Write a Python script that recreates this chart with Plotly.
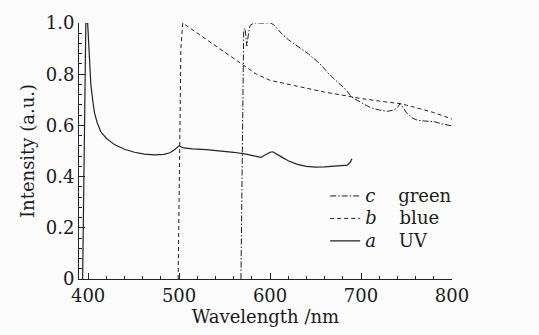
import plotly.graph_objects as go

# UV curve (a)
uv_x = [394, 396, 397.5, 399.5, 401.5, 403, 405, 407, 410, 414, 420, 429, 440, 451, 462, 473, 483, 490, 495,
        500, 505, 515, 530, 545, 560, 575, 585, 590, 595, 600, 603, 607, 612, 620, 630, 640, 650, 660, 670,
        680, 685, 688, 690]
uv_y = [0, 0.6, 1.0, 1.0, 0.88, 0.76, 0.7, 0.65, 0.61, 0.575, 0.55, 0.525, 0.507, 0.495, 0.488, 0.485, 0.487, 0.493, 0.505,
        0.52, 0.512, 0.508, 0.505, 0.5, 0.495, 0.487, 0.478, 0.475, 0.485, 0.495, 0.497, 0.49, 0.478, 0.462, 0.448, 0.44, 0.437, 0.438, 0.44,
        0.442, 0.445, 0.455, 0.47]

# blue curve (b)
b_x = [499, 500.5, 502, 504, 510, 520, 530, 540, 550, 560, 572, 585, 600, 620, 640, 660, 680, 700, 720, 743, 760, 780, 800]
b_y = [0, 0.5, 0.9, 1.0, 0.985, 0.96, 0.935, 0.91, 0.885, 0.86, 0.83, 0.80, 0.776, 0.76, 0.745, 0.73, 0.718, 0.705, 0.695,
       0.685, 0.67, 0.65, 0.625]

# green curve (c)
c_x = [568, 569.5, 571, 572.5, 574.5, 576, 578, 582, 590, 597, 601, 605, 611, 620, 630, 642, 655, 665, 674, 682,
       690, 700, 710, 720, 729, 736, 740, 743, 746, 750, 756, 762, 770, 780, 790, 800]
c_y = [0, 0.5, 0.97, 0.98, 0.91, 0.95, 0.99, 1.0, 1.0, 0.998, 1.0, 0.99, 0.965, 0.935, 0.91, 0.88, 0.84, 0.80, 0.77, 0.745,
       0.71, 0.69, 0.67, 0.66, 0.655, 0.66, 0.67, 0.685, 0.67, 0.65, 0.63, 0.62, 0.617, 0.615, 0.605, 0.598]

x_ticks = [400, 500, 600, 700, 800]
y_ticks = [0, 0.2, 0.4, 0.6, 0.8, 1.0]
y_ticktext = ["0", "0.2", "0.4", "0.6", "0.8", "1.0"]

FONT = "DejaVu Serif"
INK = "#1a1a1a"
LINE = "#222222"


def leg(letter, label):
    return ('<span style="font-size:18px"><i>%s</i>&nbsp;&nbsp;&nbsp;&nbsp;%s</span>' % (letter, label))


fig = go.Figure()
fig.add_trace(go.Scatter(x=c_x, y=c_y, mode="lines", name=leg("c", "green"),
                         line=dict(color=LINE, width=1, dash="6px,2px,1.5px,2px")))
fig.add_trace(go.Scatter(x=b_x, y=b_y, mode="lines", name=leg("b", "blue"),
                         line=dict(color=LINE, width=1, dash="4px,3px")))
fig.add_trace(go.Scatter(x=uv_x, y=uv_y, mode="lines", name=leg("a", "UV"),
                         line=dict(color=LINE, width=1.2)))

fig.update_layout(
    width=539, height=335,
    margin=dict(l=79, r=87, t=14, b=48),
    paper_bgcolor="#fcfcfc", plot_bgcolor="#fcfcfc",
    font=dict(family=FONT, size=18, color=INK),
    showlegend=True,
    legend=dict(x=0.66, y=0.388, xanchor="left", yanchor="top", bgcolor="rgba(0,0,0,0)",
                font=dict(family=FONT, size=15, color=INK), tracegroupgap=0, itemwidth=30),
    xaxis=dict(range=[390, 800], tickvals=x_ticks, ticks="inside", ticklen=6, tickcolor=LINE,
               showline=True, linecolor=LINE, linewidth=1, showgrid=False, zeroline=False,
               minor=dict(dtick=20, tick0=400, ticks="inside", ticklen=3, tickcolor=LINE),
               title=dict(text="Wavelength /nm", standoff=5, font=dict(size=18)),
               tickfont=dict(size=18)),
    yaxis=dict(range=[0, 1.0], tickvals=y_ticks, ticktext=y_ticktext, ticks="inside", ticklen=6, tickcolor=LINE,
               showline=True, linecolor=LINE, linewidth=1, showgrid=False, zeroline=False,
               minor=dict(dtick=0.04, tick0=0, ticks="inside", ticklen=3, tickcolor=LINE),
               title=dict(text="Intensity (a.u.)", standoff=6, font=dict(size=18)),
               tickfont=dict(size=18)),
)

fig.write_html("out.html")
